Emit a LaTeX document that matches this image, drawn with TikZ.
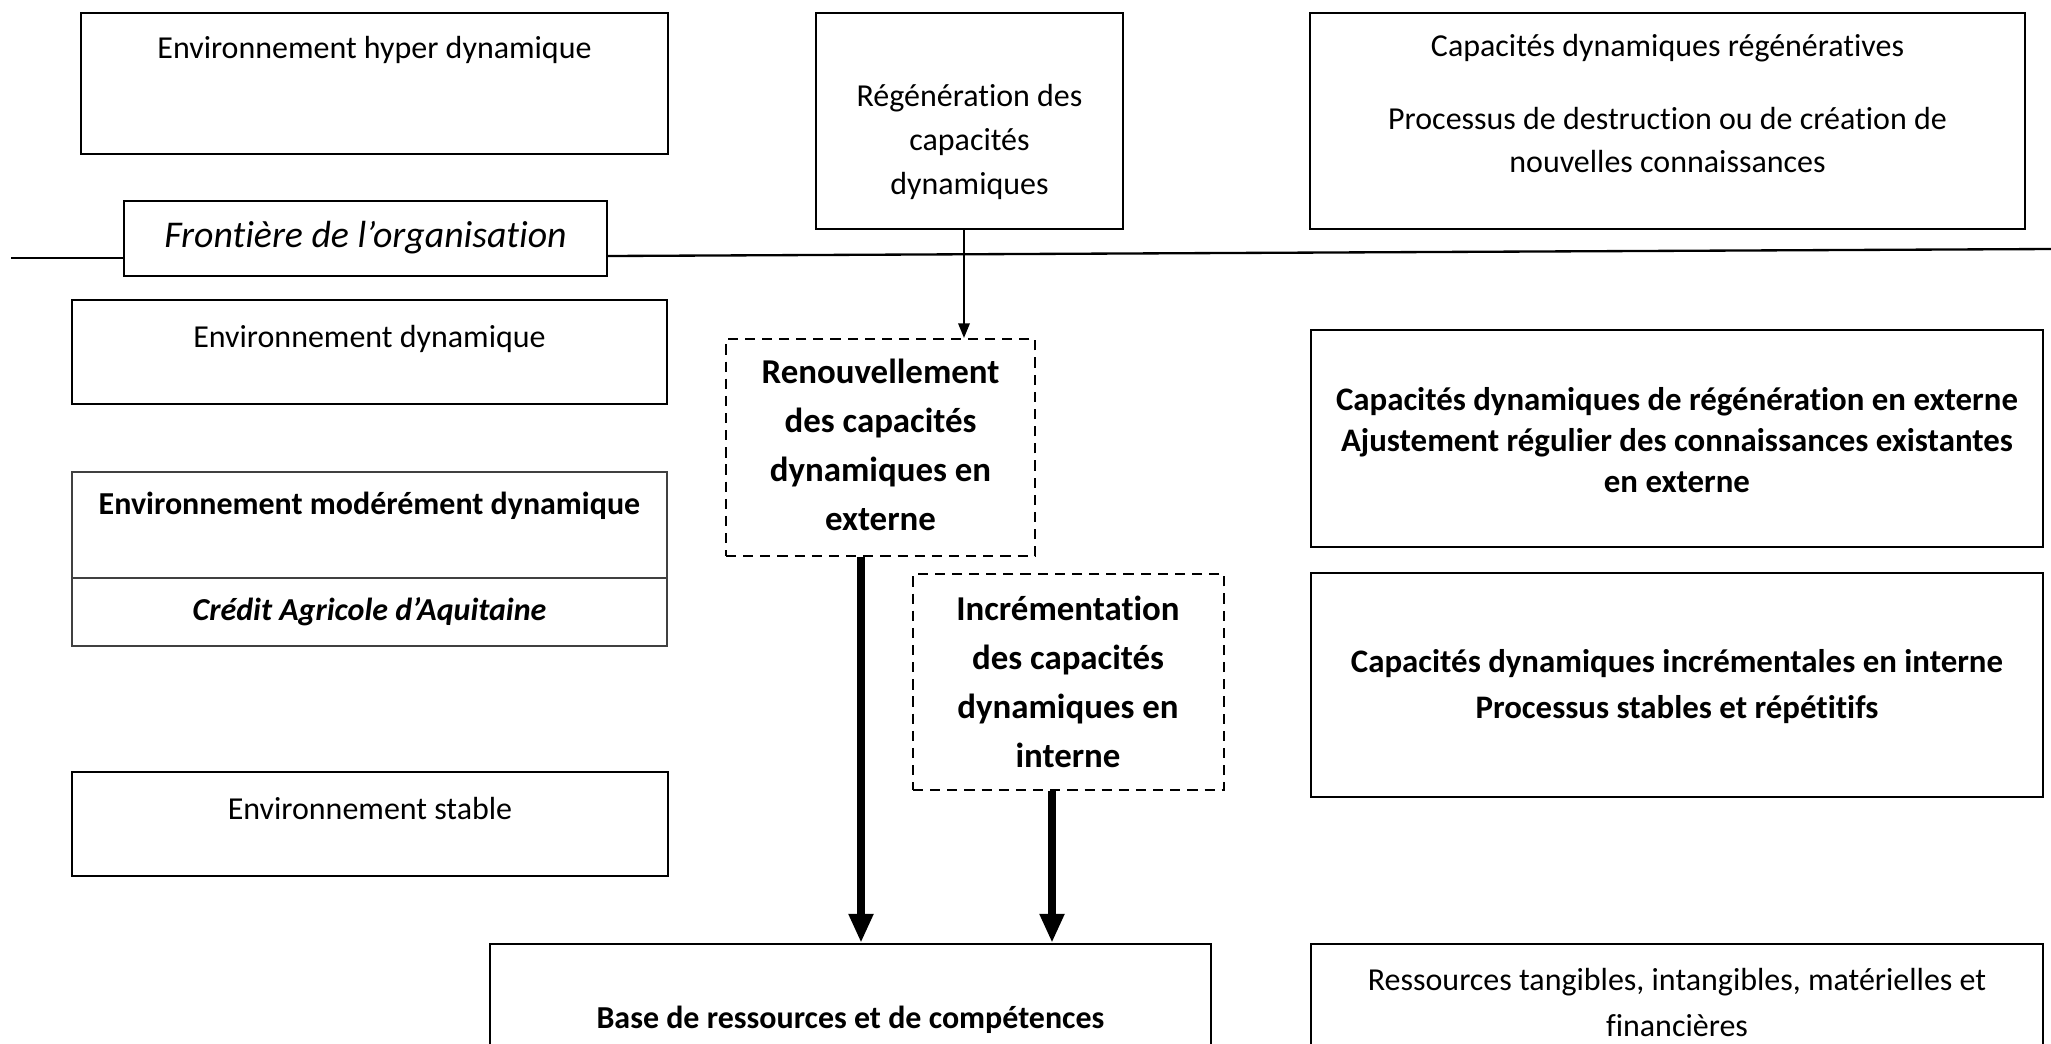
\documentclass[tikz,border=0pt]{standalone}
\usepackage{fontspec}
\setmainfont{Carlito}[Ligatures=NoCommon]
\usetikzlibrary{arrows.meta,fit}
\tikzset{
  box/.style={draw, line width=0.8pt, inner sep=0pt},
  dbox/.style={box, dash pattern=on 3.5pt off 2.4pt},
  txt/.style={align=center, font=\fontsize{11}{#1}\selectfont},
  txt/.default=15pt,
  btxt/.style={align=center, font=\bfseries\fontsize{11}{#1}\selectfont},
  btxt/.default=17pt,
  dtxt/.style={align=center, font=\bfseries\fontsize{12}{16.8pt}\selectfont},
  thin arrow/.style={-{Triangle[length=5pt,width=4pt]}, line width=0.5pt},
  thick arrow/.style={-{Triangle[length=10pt,width=8pt]}, line width=2.5pt},
}
\begin{document}
\begin{tikzpicture}[x=0.344pt, y=-0.344pt]
  \clip (0,0) rectangle (2051,1044);
  % left column
  \node[box, fit={(81,13) (668,154)}] (hyper) {};
  \node[txt] (hypert) at (374.5,50) {Environnement hyper dynamique};
  \node[box, fit={(124,201) (607,276)}] (front) {};
  \node[txt, font=\itshape\fontsize{13}{15}\selectfont] (frontt) at (365.5,238) {Frontière de l’organisation};
  \node[box, fit={(72,300) (667,404)}] (dyn) {};
  \node[txt] (dynt) at (369.5,339) {Environnement dynamique};
  \node[box, draw=black!75, line width=0.5pt, fit={(72,472) (667,646)}] (modere) {};
  \draw[black!75, line width=0.5pt] (modere.west |- 0,578) -- (modere.east |- 0,578);
  \node[btxt] (moderet) at (369.5,506) {Environnement modérément dynamique};
  \node[btxt, font=\bfseries\itshape\fontsize{11}{15}\selectfont] (credit) at (369.5,612) {Crédit Agricole d’Aquitaine};
  \node[box, fit={(72,772) (668,876)}] (stable) {};
  \node[txt] (stablet) at (370,809) {Environnement stable};

  % middle column
  \node[box, fit={(816,13) (1123,229)}] (regen) {};
  \node[txt] (regent) at (969.5,142) {Régénération des\\capacités\\dynamiques};
  \node[dbox, fit={(726,339) (1035,556)}] (renouv) {};
  \node[dtxt] (renouvt) at (880.5,445) {Renouvellement\\des capacités\\dynamiques en\\externe};
  \node[dbox, fit={(913,574) (1224,790)}] (incr) {};
  \node[dtxt] (incrt) at (1068,682) {Incrémentation\\des capacités\\dynamiques en\\interne};
  \node[box, fit={(490,944) (1211,1070)}] (base) {};
  \node[btxt] (baset) at (850.5,1020) {Base de ressources et de compétences};

  % right column
  \node[box, fit={(1310,13) (2025,229)}] (regenr) {};
  \node[txt] (regenr1) at (1667.5,48) {Capacités dynamiques régénératives};
  \node[txt=14.5pt] (regenr2) at (1667.5,140) {Processus de destruction ou de création de\\nouvelles connaissances};
  \node[box, fit={(1311,330) (2043,547)}] (extern) {};
  \node[btxt=14.2pt, font=\bfseries\fontsize{11.3}{14.2pt}\selectfont] (externt) at (1677,440) {Capacités dynamiques de régénération en externe\\Ajustement régulier des connaissances existantes\\en externe};
  \node[box, fit={(1311,573) (2043,797)}] (intern) {};
  \node[btxt=15.8pt, font=\bfseries\fontsize{11.3}{15.8pt}\selectfont] (internt) at (1677,687) {Capacités dynamiques incrémentales en interne\\Processus stables et répétitifs};
  \node[box, fit={(1311,944) (2043,1070)}] (ress) {};
  \node[txt=15.5pt] (resst) at (1677,1002.5) {Ressources tangibles, intangibles, matérielles et\\financières};

  % boundary line
  \coordinate (lineL) at (11,258);
  \coordinate (lineR) at (2051,249);
  \draw[line width=0.8pt] (lineL) -- (front.west |- lineL);
  \draw[line width=0.8pt] (front.east |- 0,256) -- (lineR);

  % arrows
  \coordinate (ax) at (964,0);
  \coordinate (bx) at (861,0);
  \coordinate (cx) at (1052,0);
  \draw[thin arrow] (regen.south -| ax) -- (renouv.north -| ax);
  \draw[thick arrow] (renouv.south -| bx) -- (base.north -| bx);
  \draw[thick arrow] (incr.south -| cx) -- (base.north -| cx);
\end{tikzpicture}
\end{document}
